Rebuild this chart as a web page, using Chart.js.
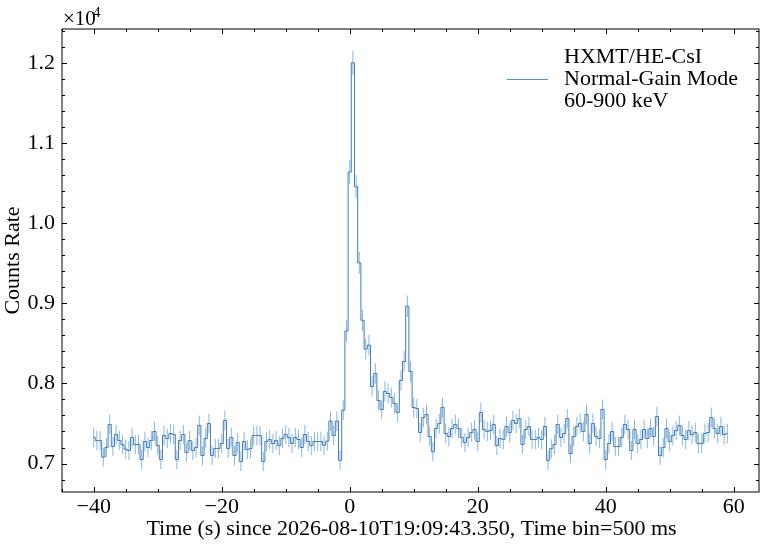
<!DOCTYPE html>
<html lang="en">
<head>
<meta charset="UTF-8">
<title>HXMT/HE-CsI light curve</title>
<style>
  html, body { margin: 0; padding: 0; background: #fff; }
  #wrap { width: 764px; height: 545px; }
</style>
</head>
<body>
<div id="wrap"><canvas id="lc" width="764" height="545"></canvas></div>

<script src="https://cdn.jsdelivr.net/npm/chart.js"></script>
<script>
// bin centres (s), 500 ms bins
const times = [
  -40,-39.5,-39,-38.5,-38,-37.5,-37,-36.5,-36,-35.5,
  -35,-34.5,-34,-33.5,-33,-32.5,-32,-31.5,-31,-30.5,
  -30,-29.5,-29,-28.5,-28,-27.5,-27,-26.5,-26,-25.5,
  -25,-24.5,-24,-23.5,-23,-22.5,-22,-21.5,-21,-20.5,
  -20,-19.5,-19,-18.5,-18,-17.5,-17,-16.5,-16,-15.5,
  -15,-14.5,-14,-13.5,-13,-12.5,-12,-11.5,-11,-10.5,
  -10,-9.5,-9,-8.5,-8,-7.5,-7,-6.5,-6,-5.5,
  -5,-4.5,-4,-3.5,-3,-2.5,-2,-1.5,-1,-0.5,
  0,0.5,1,1.5,2,2.5,3,3.5,4,4.5,
  5,5.5,6,6.5,7,7.5,8,8.5,9,9.5,
  10,10.5,11,11.5,12,12.5,13,13.5,14,14.5,
  15,15.5,16,16.5,17,17.5,18,18.5,19,19.5,
  20,20.5,21,21.5,22,22.5,23,23.5,24,24.5,
  25,25.5,26,26.5,27,27.5,28,28.5,29,29.5,
  30,30.5,31,31.5,32,32.5,33,33.5,34,34.5,
  35,35.5,36,36.5,37,37.5,38,38.5,39,39.5,
  40,40.5,41,41.5,42,42.5,43,43.5,44,44.5,
  45,45.5,46,46.5,47,47.5,48,48.5,49,49.5,
  50,50.5,51,51.5,52,52.5,53,53.5,54,54.5,
  55,55.5,56,56.5,57,57.5,58,58.5,59
];

// count rate per bin
const rates = [
  7325,7287,7287,7079,7200,7487,7212,7362,7287,7237,
  7179,7162,7325,7237,7237,7050,7275,7200,7287,7400,
  7225,7050,7350,7312,7375,7362,7050,7287,7362,7137,
  7287,7162,7200,7475,7100,7312,7500,7100,7187,7187,
  7250,7537,7187,7325,7100,7262,7025,7275,7175,7187,
  7350,7350,7350,7025,7275,7300,7250,7287,7225,7312,
  7362,7325,7250,7325,7300,7200,7362,7275,7225,7275,
  7275,7275,7229,7279,7529,7350,7529,7041,7666,8654,
  10637,12000,10454,9504,8787,8429,8479,7962,8124,7787,
  7674,7899,7874,7824,7749,7637,8037,8274,8962,8149,
  7699,7687,7387,7574,7612,7337,7149,7437,7499,7700,
  7375,7337,7437,7487,7437,7325,7262,7325,7387,7425,
  7275,7637,7425,7400,7412,7487,7225,7312,7300,7462,
  7387,7537,7500,7562,7237,7425,7462,7300,7300,7325,
  7300,7462,7037,7187,7237,7487,7325,7375,7562,7125,
  7337,7462,7500,7400,7612,7250,7500,7337,7312,7675,
  7050,7250,7400,7212,7212,7325,7487,7425,7162,7425,
  7250,7300,7425,7312,7437,7337,7587,7100,7200,7437,
  7275,7350,7412,7475,7350,7300,7412,7362,7387,7250,
  7250,7375,7387,7575,7437,7375,7462,7362,7375
];

// 1-sigma error per bin
const errs = [
  121,121,121,119,120,122,120,121,121,120,
  120,120,121,120,120,119,121,120,121,121,
  120,119,121,121,121,121,119,121,121,120,
  121,120,120,122,119,121,122,119,120,120,
  120,122,120,121,119,120,119,121,120,120,
  121,121,121,119,121,121,120,121,120,121,
  121,121,120,121,121,120,121,121,120,121,
  121,121,120,121,122,121,122,119,123,132,
  146,155,145,138,133,130,130,126,127,125,
  124,126,125,125,124,124,127,129,134,128,
  124,124,121,123,123,121,120,121,122,124,
  121,121,121,122,121,121,120,121,121,121,
  121,123,121,121,121,122,120,121,121,122,
  121,122,122,122,120,121,122,121,121,121,
  121,122,119,120,120,122,121,121,122,120,
  121,122,122,121,123,120,122,121,121,123,
  119,120,121,120,120,121,122,121,120,121,
  120,121,121,121,121,121,123,119,120,121,
  121,121,121,122,121,121,121,121,121,120,
  120,121,121,123,121,121,122,121,121
];

const xTicks = [-40, -20, 0, 20, 40, 60];
const yTicks = [7000, 8000, 9000, 10000, 11000, 12000];
const legendText = ['HXMT/HE-CsI', 'Normal-Gain Mode', '60-900 keV'];

const serif = "'Liberation Serif', 'Times New Roman', serif";
const stepColor = '#2a6fae';
const errColor = '#6aa2d6';

// error bars, under the step line
const errorBars = {
  id: 'errorBars',
  beforeDatasetsDraw(chart) {
    const {ctx, chartArea, scales: {x, y}} = chart;
    ctx.save();
    ctx.beginPath();
    ctx.rect(chartArea.left, chartArea.top, chartArea.right - chartArea.left, chartArea.bottom - chartArea.top);
    ctx.clip();
    ctx.strokeStyle = errColor;
    ctx.lineWidth = 0.8;
    ctx.beginPath();
    for (let i = 0; i < times.length; i++) {
      const px = x.getPixelForValue(times[i]);
      ctx.moveTo(px, y.getPixelForValue(rates[i] - errs[i]));
      ctx.lineTo(px, y.getPixelForValue(rates[i] + errs[i]));
    }
    ctx.stroke();
    ctx.restore();
  }
};

// frame with inward ticks on all four sides, titles and legend
const frame = {
  id: 'frame',
  afterDraw(chart) {
    const {ctx, chartArea: a, scales: {x, y}} = chart;
    ctx.save();
    ctx.strokeStyle = '#000';
    ctx.lineWidth = 1;
    ctx.strokeRect(a.left, a.top, a.right - a.left, a.bottom - a.top);

    ctx.beginPath();
    for (let v = -45; v <= 65; v += 5) {
      const px = Math.round(x.getPixelForValue(v)) + 0.5;
      if (px < a.left || px > a.right) continue;
      const len = (v % 20 === 0) ? 5 : 3;
      ctx.moveTo(px, a.bottom); ctx.lineTo(px, a.bottom - len);
      ctx.moveTo(px, a.top); ctx.lineTo(px, a.top + len);
    }
    for (let v = 6600; v <= 12500; v += 200) {
      const py = Math.round(y.getPixelForValue(v)) + 0.5;
      if (py < a.top || py > a.bottom) continue;
      const len = (v % 1000 === 0) ? 5 : 3;
      ctx.moveTo(a.left, py); ctx.lineTo(a.left + len, py);
      ctx.moveTo(a.right, py); ctx.lineTo(a.right - len, py);
    }
    ctx.stroke();

    ctx.fillStyle = '#000';
    ctx.font = '22px ' + serif;
    ctx.textAlign = 'center';
    ctx.textBaseline = 'middle';
    ctx.fillText('Time (s) since 2026-08-10T19:09:43.350, Time bin=500 ms', (a.left + a.right) / 2 + 1, 529);

    ctx.save();
    ctx.translate(13, (a.top + a.bottom) / 2);
    ctx.rotate(-Math.PI / 2);
    ctx.fillText('Counts Rate', 0, 0);
    ctx.restore();

    // offset text
    ctx.textAlign = 'left';
    ctx.font = '21px ' + serif;
    ctx.fillText('\u00d710', 63, 19);
    ctx.font = '15px ' + serif;
    ctx.fillText('4', 93, 13);

    // legend
    ctx.strokeStyle = '#5b8fc4';
    ctx.lineWidth = 1;
    ctx.beginPath();
    ctx.moveTo(507, 79.5); ctx.lineTo(548, 79.5);
    ctx.stroke();
    ctx.font = '22px ' + serif;
    ctx.fillText(legendText[0], 564, 57);
    ctx.fillText(legendText[1], 564, 79);
    ctx.fillText(legendText[2], 564, 101);
    ctx.restore();
  }
};

const ctx = document.getElementById('lc');

new Chart(ctx, {
  type: 'line',
  data: {
    datasets: [{
      data: times.map((t, i) => ({x: t, y: rates[i]})),
      stepped: 'middle',
      borderColor: stepColor,
      borderWidth: 0.9,
      pointRadius: 0,
      fill: false
    }]
  },
  options: {
    responsive: false,
    animation: false,
    layout: { padding: { top: 29, right: 5, left: 0, bottom: 0 } },
    plugins: { legend: { display: false }, tooltip: { enabled: false } },
    scales: {
      x: {
        type: 'linear',
        min: -44.95,
        max: 63.95,
        grid: { display: false, drawTicks: false, tickLength: 0 },
        border: { display: false },
        ticks: {
          padding: 2,
          color: '#000',
          font: { family: serif, size: 22 },
          maxRotation: 0,
          callback: v => v < 0 ? '\u2212' + Math.abs(v) : String(v)
        },
        afterBuildTicks: s => { s.ticks = xTicks.map(v => ({value: v})); },
        afterFit: s => { s.height = 53; }
      },
      y: {
        min: 6645,
        max: 12422,
        grid: { display: false, drawTicks: false, tickLength: 0 },
        border: { display: false },
        ticks: {
          padding: 7,
          color: '#000',
          font: { family: serif, size: 22 },
          callback: v => (v / 10000).toFixed(1)
        },
        afterBuildTicks: s => { s.ticks = yTicks.map(v => ({value: v})); },
        afterFit: s => { s.width = 62; }
      }
    }
  },
  plugins: [errorBars, frame]
});
</script>
</body>
</html>
